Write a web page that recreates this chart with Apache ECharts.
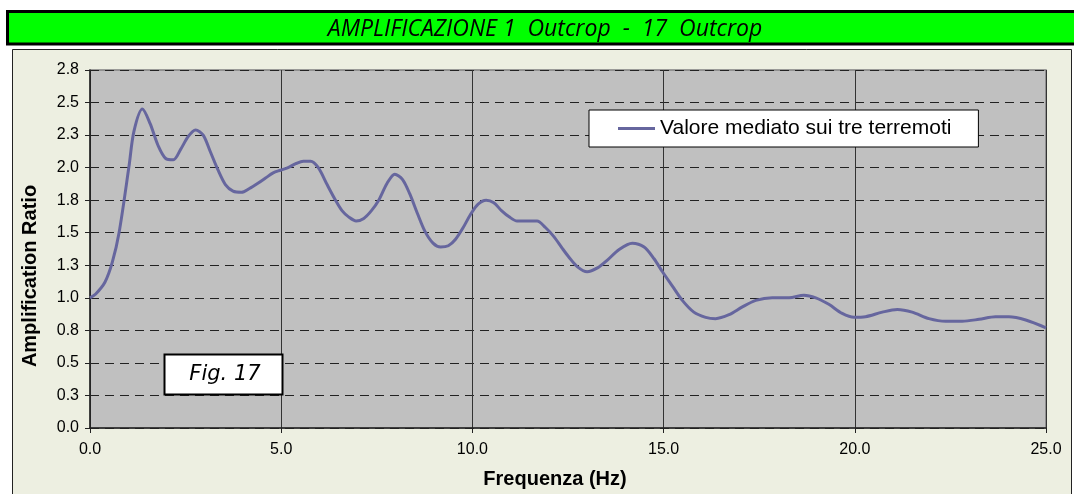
<!DOCTYPE html>
<html>
<head>
<meta charset="utf-8">
<style>
  html, body { margin: 0; padding: 0; background: #fff; }
  #chart { width: 1074px; height: 494px; }
</style>
<script src="https://cdn.jsdelivr.net/npm/echarts@6/dist/echarts.min.js"></script>
</head>
<body>
<div id="chart"></div>
<script>
// frequenze (Hz) e rapporto di amplificazione
var freq = [0, 0.15, 0.39, 0.58, 0.76, 1.02, 1.15, 1.37, 1.57, 1.78, 1.98, 2.18, 2.37, 2.57, 2.76, 2.96,
  3.15, 3.35, 3.54, 3.74, 3.96, 4.17, 4.39, 4.59, 4.79, 4.98, 5.18, 5.38, 5.58, 5.77, 5.97,
  6.20, 6.42, 6.59, 6.77, 6.96, 7.16, 7.36, 7.55, 7.77, 7.97, 8.17, 8.36, 8.56, 8.76, 8.97,
  9.17, 9.37, 9.56, 9.76, 9.95, 10.15, 10.36, 10.56, 10.76, 10.97, 11.17, 11.39, 11.69, 11.91,
  12.13, 12.35, 12.53, 12.74, 13.00, 13.27, 13.53, 13.83, 14.18, 14.49, 14.75, 14.97, 15.23,
  15.49, 15.79, 16.10, 16.36, 16.71, 17.06, 17.41, 17.84, 18.28, 18.67, 18.98, 19.32, 19.67,
  19.98, 20.28, 20.72, 21.11, 21.50, 21.94, 22.38, 22.81, 23.25, 23.68, 24.03, 24.47, 25.00];
var ratio = [1.00, 1.03, 1.12, 1.27, 1.50, 2.01, 2.28, 2.45, 2.34, 2.17, 2.07, 2.06, 2.14, 2.24, 2.29, 2.25,
  2.12, 1.98, 1.87, 1.82, 1.81, 1.84, 1.88, 1.92, 1.96, 1.98, 2.00, 2.03, 2.05, 2.05, 2.00,
  1.87, 1.75, 1.67, 1.62, 1.59, 1.61, 1.67, 1.75, 1.88, 1.95, 1.91, 1.80, 1.65, 1.51, 1.42,
  1.39, 1.40, 1.45, 1.54, 1.64, 1.72, 1.75, 1.73, 1.67, 1.62, 1.59, 1.59, 1.59, 1.54,
  1.47, 1.38, 1.31, 1.24, 1.20, 1.23, 1.29, 1.37, 1.42, 1.39, 1.30, 1.20, 1.09,
  0.98, 0.89, 0.85, 0.84, 0.87, 0.93, 0.98, 1.00, 1.00, 1.02, 1.00, 0.95, 0.88,
  0.85, 0.855, 0.89, 0.91, 0.89, 0.84, 0.82, 0.82, 0.835, 0.855, 0.855, 0.83, 0.77];
var xTickLabels = ['0.0', '5.0', '10.0', '15.0', '20.0', '25.0'];
var yTickLabels = ['0.0', '0.3', '0.5', '0.8', '1.0', '1.3', '1.5', '1.8', '2.0', '2.3', '2.5', '2.8'];
var seriesName = 'Valore mediato sui tre terremoti';

var points = freq.map(function (f, i) { return [f, ratio[i]]; });

var chart = echarts.init(document.getElementById('chart'));
chart.setOption({
  animation: false,
  textStyle: { fontFamily: 'Liberation Sans, Arial, sans-serif' },
  graphic: [
    // pannello del grafico
    { type: 'rect', z: -10, shape: { x: 12.5, y: 49.5, width: 1059, height: 460 },
      style: { fill: '#EDEFE1', stroke: '#222', lineWidth: 1 } },
    // barra del titolo
    { type: 'rect', z: 50, shape: { x: 7.5, y: 11.5, width: 1075, height: 32.5 },
      style: { fill: '#00FF00', stroke: '#000', lineWidth: 3 } },
    { type: 'text', z: 51, x: 545, y: 29,
      style: { text: 'AMPLIFICAZIONE 1  Outcrop  -  17  Outcrop', fill: '#000',
        align: 'center', verticalAlign: 'middle',
        font: 'italic 23px "Open Sans", sans-serif' } },
    // riquadro Fig. 17
    { type: 'rect', z: 50, shape: { x: 164.5, y: 354.5, width: 118, height: 40 },
      style: { fill: '#fff', stroke: '#000', lineWidth: 2 } },
    { type: 'text', z: 51, x: 225, y: 375,
      style: { text: 'Fig. 17', fill: '#000', align: 'center', verticalAlign: 'middle',
        font: 'italic 21px "DejaVu Sans", sans-serif' } }
  ],
  legend: {
    data: [seriesName],
    left: 589, top: 110,
    padding: [8, 27, 8, 29],
    icon: 'rect',
    itemWidth: 37, itemHeight: 3,
    backgroundColor: '#fff',
    borderColor: '#000', borderWidth: 1,
    textStyle: { fontSize: 21, color: '#000', fontFamily: 'Liberation Sans, Arial, sans-serif' },
    z: 60
  },
  grid: {
    left: 90, right: 28, top: 70, bottom: 66,
    show: true,
    backgroundColor: '#C0C0C0',
    borderColor: '#808080',
    borderWidth: 1.5
  },
  xAxis: {
    type: 'value',
    min: 0, max: 25, interval: 5,
    name: 'Frequenza (Hz)',
    nameLocation: 'middle',
    nameGap: 41,
    nameTextStyle: { fontWeight: 'bold', fontSize: 20, color: '#000', padding: [0, 26, 0, 0] },
    axisLine: { show: true, onZero: false, lineStyle: { color: '#222', width: 1.5 } },
    axisTick: { show: true, length: 5, lineStyle: { color: '#222' } },
    axisLabel: { fontSize: 16, color: '#000', margin: 14,
      formatter: function (v) { return xTickLabels[Math.round(v / 5)]; } },
    splitLine: { show: true, lineStyle: { color: '#333', width: 1 } }
  },
  yAxis: {
    type: 'value',
    min: 0, max: 2.75, interval: 0.25,
    name: 'Amplification Ratio',
    nameLocation: 'middle',
    nameGap: 50,
    nameTextStyle: { fontWeight: 'bold', fontSize: 20, color: '#000', padding: [0, 54, 0, 0] },
    axisLine: { show: true, lineStyle: { color: '#222', width: 1.5 } },
    axisTick: { show: true, length: 5, lineStyle: { color: '#222' } },
    axisLabel: { fontSize: 16, color: '#000', margin: 11,
      formatter: function (v) { return yTickLabels[Math.round(v / 0.25)]; } },
    splitLine: { show: true, lineStyle: { color: '#222', width: 1, type: [9, 6] } }
  },
  series: [{
    name: seriesName,
    type: 'line',
    data: points,
    showSymbol: false,
    smooth: 0.3,
    color: '#66669E',
    lineStyle: { color: '#66669E', width: 3 },
    z: 5
  }]
});
</script>
</body>
</html>
